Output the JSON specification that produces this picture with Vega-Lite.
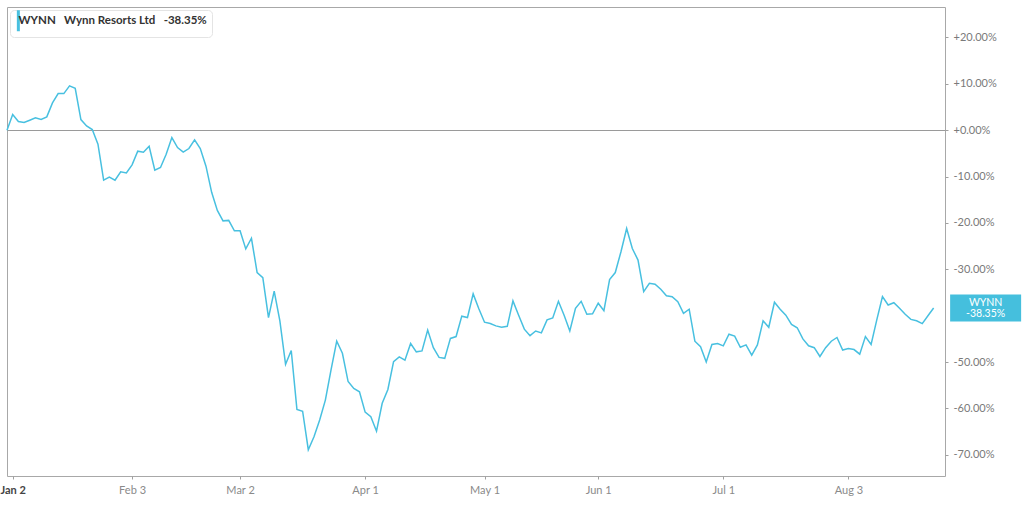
{
  "$schema": "https://vega.github.io/schema/vega-lite/v6.json",
  "width": 938,
  "height": 469,
  "autosize": {"type": "none"},
  "padding": {"left": 7, "top": 7, "right": 79, "bottom": 53},
  "background": "white",
  "config": {"view": {"stroke": "#a8a8a8", "strokeWidth": 1}, "font": "Lato"},
  "data": {"values": [
    {"date": "2019-12-31", "pct": 0},
    {"date": "2020-01-02", "pct": 3.38},
    {"date": "2020-01-03", "pct": 1.87},
    {"date": "2020-01-06", "pct": 1.65},
    {"date": "2020-01-07", "pct": 2.16},
    {"date": "2020-01-08", "pct": 2.66},
    {"date": "2020-01-09", "pct": 2.3},
    {"date": "2020-01-10", "pct": 2.87},
    {"date": "2020-01-13", "pct": 5.89},
    {"date": "2020-01-14", "pct": 7.9},
    {"date": "2020-01-15", "pct": 7.9},
    {"date": "2020-01-16", "pct": 9.56},
    {"date": "2020-01-17", "pct": 9.05},
    {"date": "2020-01-21", "pct": 2.3},
    {"date": "2020-01-22", "pct": 0.93},
    {"date": "2020-01-23", "pct": 0.14},
    {"date": "2020-01-24", "pct": -3.02},
    {"date": "2020-01-27", "pct": -10.78},
    {"date": "2020-01-28", "pct": -10.13},
    {"date": "2020-01-29", "pct": -10.78},
    {"date": "2020-01-30", "pct": -8.98},
    {"date": "2020-01-31", "pct": -9.2},
    {"date": "2020-02-03", "pct": -7.47},
    {"date": "2020-02-04", "pct": -4.53},
    {"date": "2020-02-05", "pct": -4.74},
    {"date": "2020-02-06", "pct": -3.45},
    {"date": "2020-02-07", "pct": -8.62},
    {"date": "2020-02-10", "pct": -8.05},
    {"date": "2020-02-11", "pct": -5.17},
    {"date": "2020-02-12", "pct": -1.58},
    {"date": "2020-02-13", "pct": -3.74},
    {"date": "2020-02-14", "pct": -4.74},
    {"date": "2020-02-18", "pct": -3.95},
    {"date": "2020-02-19", "pct": -2.08},
    {"date": "2020-02-20", "pct": -3.95},
    {"date": "2020-02-21", "pct": -7.76},
    {"date": "2020-02-24", "pct": -13.4},
    {"date": "2020-02-25", "pct": -17.3},
    {"date": "2020-02-26", "pct": -19.55},
    {"date": "2020-02-27", "pct": -19.45},
    {"date": "2020-02-28", "pct": -21.7},
    {"date": "2020-03-02", "pct": -21.7},
    {"date": "2020-03-03", "pct": -25.6},
    {"date": "2020-03-04", "pct": -23.3},
    {"date": "2020-03-05", "pct": -30.7},
    {"date": "2020-03-06", "pct": -31.8},
    {"date": "2020-03-09", "pct": -40.4},
    {"date": "2020-03-10", "pct": -34.7},
    {"date": "2020-03-11", "pct": -41.1},
    {"date": "2020-03-12", "pct": -50.5},
    {"date": "2020-03-13", "pct": -47.5},
    {"date": "2020-03-16", "pct": -60.2},
    {"date": "2020-03-17", "pct": -60.6},
    {"date": "2020-03-18", "pct": -68.9},
    {"date": "2020-03-19", "pct": -66.1},
    {"date": "2020-03-20", "pct": -62.5},
    {"date": "2020-03-23", "pct": -58.2},
    {"date": "2020-03-24", "pct": -51.7},
    {"date": "2020-03-25", "pct": -45.5},
    {"date": "2020-03-26", "pct": -48.1},
    {"date": "2020-03-27", "pct": -54.2},
    {"date": "2020-03-30", "pct": -55.7},
    {"date": "2020-03-31", "pct": -56.4},
    {"date": "2020-04-01", "pct": -60.8},
    {"date": "2020-04-02", "pct": -61.8},
    {"date": "2020-04-03", "pct": -64.9},
    {"date": "2020-04-06", "pct": -58.9},
    {"date": "2020-04-07", "pct": -55.9},
    {"date": "2020-04-08", "pct": -49.9},
    {"date": "2020-04-09", "pct": -48.9},
    {"date": "2020-04-13", "pct": -49.6},
    {"date": "2020-04-14", "pct": -46.0},
    {"date": "2020-04-15", "pct": -47.8},
    {"date": "2020-04-16", "pct": -47.6},
    {"date": "2020-04-17", "pct": -43.1},
    {"date": "2020-04-20", "pct": -46.9},
    {"date": "2020-04-21", "pct": -49.0},
    {"date": "2020-04-22", "pct": -49.2},
    {"date": "2020-04-23", "pct": -44.9},
    {"date": "2020-04-24", "pct": -44.5},
    {"date": "2020-04-27", "pct": -40.1},
    {"date": "2020-04-28", "pct": -40.4},
    {"date": "2020-04-29", "pct": -35.3},
    {"date": "2020-04-30", "pct": -38.5},
    {"date": "2020-05-01", "pct": -41.4},
    {"date": "2020-05-04", "pct": -41.7},
    {"date": "2020-05-05", "pct": -42.2},
    {"date": "2020-05-06", "pct": -42.5},
    {"date": "2020-05-07", "pct": -42.3},
    {"date": "2020-05-08", "pct": -36.8},
    {"date": "2020-05-11", "pct": -39.9},
    {"date": "2020-05-12", "pct": -42.9},
    {"date": "2020-05-13", "pct": -44.3},
    {"date": "2020-05-14", "pct": -43.3},
    {"date": "2020-05-15", "pct": -43.7},
    {"date": "2020-05-18", "pct": -40.9},
    {"date": "2020-05-19", "pct": -40.5},
    {"date": "2020-05-20", "pct": -36.9},
    {"date": "2020-05-21", "pct": -39.9},
    {"date": "2020-05-22", "pct": -43.3},
    {"date": "2020-05-26", "pct": -38.4},
    {"date": "2020-05-27", "pct": -36.9},
    {"date": "2020-05-28", "pct": -39.7},
    {"date": "2020-05-29", "pct": -39.6},
    {"date": "2020-06-01", "pct": -37.3},
    {"date": "2020-06-02", "pct": -38.9},
    {"date": "2020-06-03", "pct": -32.2},
    {"date": "2020-06-04", "pct": -30.7},
    {"date": "2020-06-05", "pct": -26.2},
    {"date": "2020-06-08", "pct": -21.2},
    {"date": "2020-06-09", "pct": -25.5},
    {"date": "2020-06-10", "pct": -28.0},
    {"date": "2020-06-11", "pct": -34.8},
    {"date": "2020-06-12", "pct": -33.0},
    {"date": "2020-06-15", "pct": -33.2},
    {"date": "2020-06-16", "pct": -34.3},
    {"date": "2020-06-17", "pct": -35.7},
    {"date": "2020-06-18", "pct": -35.9},
    {"date": "2020-06-19", "pct": -37.0},
    {"date": "2020-06-22", "pct": -39.5},
    {"date": "2020-06-23", "pct": -38.6},
    {"date": "2020-06-24", "pct": -45.5},
    {"date": "2020-06-25", "pct": -46.7},
    {"date": "2020-06-26", "pct": -50.0},
    {"date": "2020-06-29", "pct": -46.2},
    {"date": "2020-06-30", "pct": -46.0},
    {"date": "2020-07-01", "pct": -46.5},
    {"date": "2020-07-02", "pct": -44.0},
    {"date": "2020-07-06", "pct": -44.4},
    {"date": "2020-07-07", "pct": -46.8},
    {"date": "2020-07-08", "pct": -46.3},
    {"date": "2020-07-09", "pct": -48.5},
    {"date": "2020-07-10", "pct": -46.3},
    {"date": "2020-07-13", "pct": -41.1},
    {"date": "2020-07-14", "pct": -42.5},
    {"date": "2020-07-15", "pct": -37.1},
    {"date": "2020-07-16", "pct": -38.6},
    {"date": "2020-07-17", "pct": -39.9},
    {"date": "2020-07-20", "pct": -41.9},
    {"date": "2020-07-21", "pct": -42.6},
    {"date": "2020-07-22", "pct": -45.0},
    {"date": "2020-07-23", "pct": -46.5},
    {"date": "2020-07-24", "pct": -46.9},
    {"date": "2020-07-27", "pct": -48.8},
    {"date": "2020-07-28", "pct": -46.9},
    {"date": "2020-07-29", "pct": -45.5},
    {"date": "2020-07-30", "pct": -44.7},
    {"date": "2020-07-31", "pct": -47.4},
    {"date": "2020-08-03", "pct": -47.1},
    {"date": "2020-08-04", "pct": -47.3},
    {"date": "2020-08-05", "pct": -48.3},
    {"date": "2020-08-06", "pct": -44.5},
    {"date": "2020-08-07", "pct": -46.2},
    {"date": "2020-08-10", "pct": -40.9},
    {"date": "2020-08-11", "pct": -35.9},
    {"date": "2020-08-12", "pct": -37.7},
    {"date": "2020-08-13", "pct": -37.2},
    {"date": "2020-08-14", "pct": -38.4},
    {"date": "2020-08-17", "pct": -39.7},
    {"date": "2020-08-18", "pct": -40.8},
    {"date": "2020-08-19", "pct": -41.1},
    {"date": "2020-08-20", "pct": -41.7},
    {"date": "2020-08-21", "pct": -40.0},
    {"date": "2020-08-24", "pct": -38.35}
  ]},
  "encoding": {
    "x": {
      "field": "date",
      "type": "ordinal",
      "scale": {"type": "point", "padding": 1.35, "align": 0},
      "axis": {
        "title": null,
        "values": ["2020-01-02", "2020-02-03", "2020-03-02", "2020-04-01", "2020-05-01", "2020-06-01", "2020-07-01", "2020-08-03"],
        "labelExpr": "utcFormat(toDate(datum.value), '%b %-d')",
        "labelAngle": 0,
        "domain": false,
        "grid": false,
        "ticks": true,
        "tickSize": 3,
        "tickColor": "#a0a0a0",
        "labelPadding": 5,
        "labelFont": "Lato",
        "labelFontSize": 11,
        "labelColor": {"condition": {"test": "datum.value == '2020-01-02'", "value": "#444444"}, "value": "#8a8a8a"},
        "labelFontWeight": {"condition": {"test": "datum.value == '2020-01-02'", "value": "bold"}, "value": "normal"}
      }
    },
    "y": {
      "field": "pct",
      "type": "quantitative",
      "scale": {"domain": [-74.57, 26.57], "nice": false, "zero": false},
      "axis": {
        "title": null,
        "orient": "right",
        "values": [-70, -60, -50, -30, -20, -10, 0, 10, 20],
        "labelExpr": "(datum.value >= 0 ? '+' : '-') + format(abs(datum.value), '.2f') + '%'",
        "domain": false,
        "ticks": true,
        "tickSize": 3,
        "tickColor": "#a0a0a0",
        "labelPadding": 5,
        "labelFont": "Lato",
        "labelFontSize": 11,
        "labelColor": "#7a7a7a",
        "grid": true,
        "gridColor": "#9a9a9a",
        "gridWidth": 1,
        "gridOpacity": {"condition": {"test": "datum.value === 0", "value": 1}, "value": 0}
      }
    }
  },
  "layer": [
    {
      "mark": {"type": "line", "strokeWidth": 1.5, "interpolate": "linear"},
      "encoding": {
        "color": {
          "datum": "WYNN",
          "type": "nominal",
          "scale": {"range": ["#48c0e0"]},
          "legend": {
            "orient": "top-left",
            "offset": 3,
            "title": null,
            "padding": 5,
            "fillColor": "white",
            "strokeColor": "#e4e4e4",
            "cornerRadius": 4,
            "symbolType": "M-1.3,-3.5H-0.3V3.5H-1.3Z",
            "symbolSize": 36,
            "symbolFillColor": "#48c0e0",
            "symbolStrokeColor": "transparent",
            "symbolStrokeWidth": 0,
            "labelExpr": "'WYNN\u00a0\u00a0\u00a0Wynn Resorts Ltd\u00a0\u00a0\u00a0-38.35%'",
            "labelFont": "Lato",
            "labelFontSize": 11.5,
            "labelFontWeight": "bold",
            "labelColor": "#333333",
            "labelOffset": -8,
            "labelLimit": 400,
            "encode": {"symbols": {"update": {"fill": {"value": "#48c0e0"}, "stroke": {"value": "transparent"}, "shape": {"value": "M-1.3,-3.5H-0.3V3.5H-1.3Z"}}}}
          }
        }
      }
    },
    {
      "transform": [{"filter": "datum.date == '2020-08-24'"}],
      "mark": {"type": "point", "shape": "M16.5,-13.5H87.5V13.5H16.5Z", "size": 4, "filled": true, "fill": "#45bfdd", "strokeWidth": 0, "opacity": 1, "clip": false}
    },
    {
      "transform": [{"filter": "datum.date == '2020-08-24'"}],
      "mark": {"type": "text", "dx": 52, "dy": -5.5, "align": "center", "baseline": "middle", "color": "white", "font": "Lato", "fontSize": 10.5, "text": "WYNN", "clip": false}
    },
    {
      "transform": [{"filter": "datum.date == '2020-08-24'"}],
      "mark": {"type": "text", "dx": 52, "dy": 5.5, "align": "center", "baseline": "middle", "color": "white", "font": "Lato", "fontSize": 10.5, "text": "-38.35%", "clip": false}
    }
  ]
}
